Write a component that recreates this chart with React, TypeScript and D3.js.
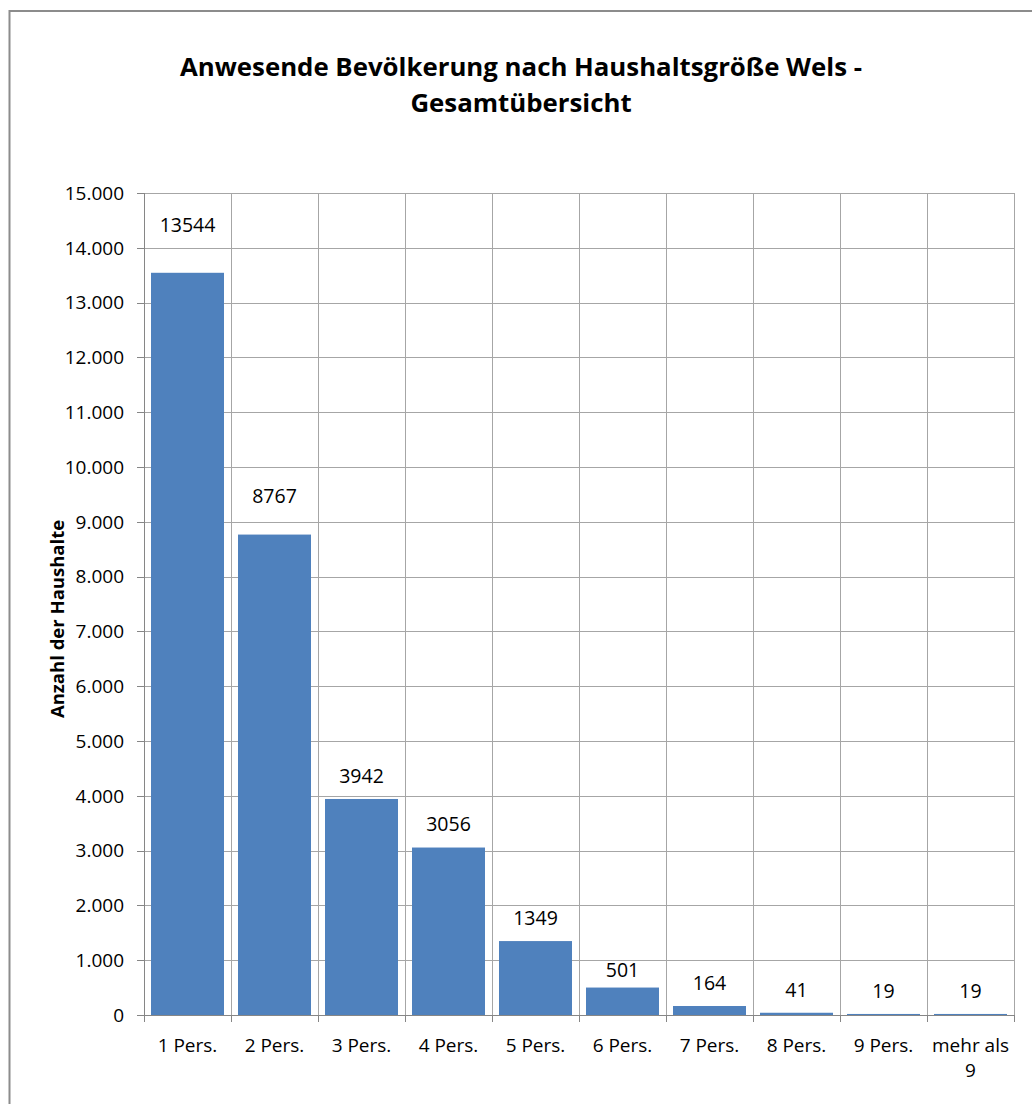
import React from "react";
import * as d3 from "d3";

const CATEGORIES: string[][] = [
  ["1 Pers."], ["2 Pers."], ["3 Pers."], ["4 Pers."], ["5 Pers."],
  ["6 Pers."], ["7 Pers."], ["8 Pers."], ["9 Pers."], ["mehr als", "9"],
];
const VALUES: number[] = [13544, 8767, 3942, 3056, 1349, 501, 164, 41, 19, 19];
const Y_TICKS: number[] = [0, 1000, 2000, 3000, 4000, 5000, 6000, 7000, 8000, 9000, 10000, 11000, 12000, 13000, 14000, 15000];
const TITLE_LINES: string[] = ["Anwesende Bevölkerung nach Haushaltsgröße Wels -", "Gesamtübersicht"];
const Y_TITLE = "Anzahl der Haushalte";

// label lift above bar top (px), styling only
const LABEL_LIFT = [48, 39, 23, 24, 23, 18, 23, 23, 23, 23];

const W = 1032;
const H = 1104;
const PLOT = { left: 144, right: 1014, top: 193, bottom: 1015 };
const FONT = "'Open Sans', 'Liberation Sans', sans-serif";
const BAR = "#4F81BD";
const GRID = "#A6A6A6";
const AXIS = "#868686";

const fmt = (v: number) => (v === 0 ? "0" : d3.format(",")(v).replace(/,/g, "."));

export default function App() {
  const x = d3
    .scaleBand<number>()
    .domain(d3.range(CATEGORIES.length))
    .range([PLOT.left, PLOT.right])
    .paddingInner(14 / 87)
    .paddingOuter(7 / 87);
  const step = (PLOT.right - PLOT.left) / CATEGORIES.length;
  const y = d3.scaleLinear().domain([0, 15000]).range([PLOT.bottom, PLOT.top]);

  return (
    <svg
      width={W}
      height={H}
      style={{ position: "absolute", left: 0, top: 0, background: "#fff" }}
      fontFamily={FONT}
    >
      <rect x={0} y={0} width={W} height={H} fill="#fff" />
      {/* frame */}
      <path d={`M9.5,${H + 5} L9.5,11 L${W + 5},11`} fill="none" stroke="#8C8C8C" strokeWidth={2} />

      {/* title */}
      <text x={521} y={76} textAnchor="middle" fontWeight="bold" fontSize={25.8} fill="#000">
        {TITLE_LINES[0]}
      </text>
      <text x={521} y={112} textAnchor="middle" fontWeight="bold" fontSize={25.8} fill="#000">
        {TITLE_LINES[1]}
      </text>

      {/* horizontal gridlines */}
      {Y_TICKS.filter((t) => t > 0).map((t) => (
        <line key={"h" + t} x1={PLOT.left} x2={PLOT.right} y1={Math.round(y(t)) + 0.5} y2={Math.round(y(t)) + 0.5} stroke={GRID} strokeWidth={1} />
      ))}
      {/* vertical gridlines */}
      {d3.range(1, CATEGORIES.length + 1).map((i) => {
        const gx = Math.round(PLOT.left + i * step) + 0.5;
        return <line key={"v" + i} x1={gx} x2={gx} y1={PLOT.top} y2={PLOT.bottom} stroke={GRID} strokeWidth={1} />;
      })}

      {/* bars */}
      {VALUES.map((v, i) => (
        <rect
          key={"b" + i}
          x={x(i)!}
          y={y(v)}
          width={x.bandwidth()}
          height={PLOT.bottom - y(v)}
          fill={BAR}
        />
      ))}

      {/* y axis */}
      <line x1={PLOT.left + 0.5} x2={PLOT.left + 0.5} y1={PLOT.top} y2={PLOT.bottom} stroke={AXIS} strokeWidth={1} />
      {Y_TICKS.map((t) => (
        <g key={"yt" + t}>
          <line x1={PLOT.left - 7} x2={PLOT.left} y1={Math.round(y(t)) + 0.5} y2={Math.round(y(t)) + 0.5} stroke={AXIS} strokeWidth={1} />
          <text x={124} y={y(t)} dy="0.36em" textAnchor="end" fontSize={19} fill="#000">
            {fmt(t)}
          </text>
        </g>
      ))}

      {/* x axis */}
      <line x1={PLOT.left} x2={PLOT.right} y1={PLOT.bottom + 0.5} y2={PLOT.bottom + 0.5} stroke={AXIS} strokeWidth={1} />
      {d3.range(0, CATEGORIES.length + 1).map((i) => {
        const gx = Math.round(PLOT.left + i * step) + 0.5;
        return <line key={"xt" + i} x1={gx} x2={gx} y1={PLOT.bottom} y2={PLOT.bottom + 7} stroke={AXIS} strokeWidth={1} />;
      })}
      {CATEGORIES.map((lines, i) => (
        <text key={"xl" + i} x={x(i)! + x.bandwidth() / 2} y={1052} textAnchor="middle" fontSize={19} fill="#000">
          {lines.map((l, j) => (
            <tspan key={j} x={x(i)! + x.bandwidth() / 2} dy={j === 0 ? 0 : 25}>
              {l}
            </tspan>
          ))}
        </text>
      ))}

      {/* data labels */}
      {VALUES.map((v, i) => (
        <text
          key={"dl" + i}
          x={x(i)! + x.bandwidth() / 2}
          y={y(v) - LABEL_LIFT[i]}
          dy="0.36em"
          textAnchor="middle"
          fontSize={19.5}
          fill="#000"
        >
          {v}
        </text>
      ))}

      {/* y title */}
      <text
        transform={`translate(64, 619) rotate(-90)`}
        textAnchor="middle"
        fontWeight="bold"
        fontSize={18.5}
        fill="#000"
      >
        {Y_TITLE}
      </text>
    </svg>
  );
}
